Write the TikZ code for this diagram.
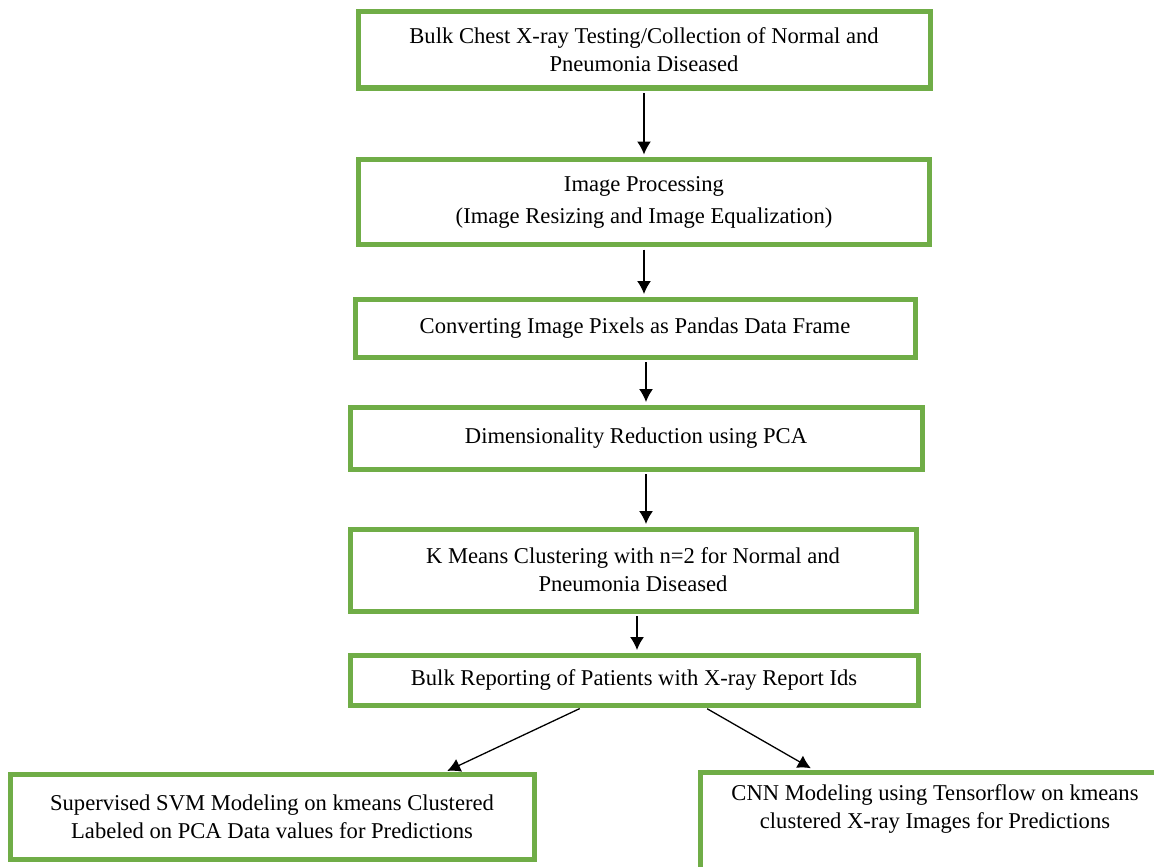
\documentclass[tikz,border=0pt]{standalone}
\usepackage{fontspec}
\setmainfont{Liberation Serif}
\usetikzlibrary{arrows.meta,positioning,calc}

\definecolor{boxgreen}{HTML}{70AD47}

\tikzset{
  stepbox/.style={draw=boxgreen, line width=5pt, align=center, inner sep=2pt,
    font=\fontsize{22.6}{28}\selectfont},
  flow/.style={-{Latex[width=14pt,length=13pt]}, line width=1.3pt,
    shorten >=2.5pt, shorten <=2.5pt},
}

\begin{document}
\begin{tikzpicture}[x=1pt,y=-1pt]
        \useasboundingbox (0,0) rectangle (1154,867);
        \clip (0,0) rectangle (1154,867);
        \node[stepbox, minimum width=572, minimum height=76] (A) at (644,50) {Bulk Chest X-ray Testing/Collection of Normal and\\Pneumonia Diseased};
        \node[stepbox, minimum width=571, minimum height=85] (B) at (644,202) {Image Processing\\[4pt](Image Resizing and Image Equalization)};
        \node[stepbox, minimum width=560, minimum height=58] (C) at (635,328) {Converting Image Pixels as Pandas Data Frame};
        \node[stepbox, minimum width=572, minimum height=62] (D) at (636,438) {Dimensionality Reduction using PCA};
        \node[stepbox, minimum width=566, minimum height=82] (E) at (633,570) {K Means Clustering with n=2 for Normal and\\Pneumonia Diseased};
        \node[stepbox, minimum width=568, minimum height=50] (F) at (634,680) {Bulk Reporting of Patients with X-ray Report Ids};
        \node[stepbox, minimum width=524, minimum height=85] (G) at (272,817) {Supervised SVM Modeling on kmeans Clustered\\Labeled on PCA Data values for Predictions};
        \node[stepbox, minimum width=470, minimum height=130,
              label={[align=center, anchor=north, inner sep=0pt, yshift=-15pt,
                      font=\fontsize{22.6}{28}\selectfont]north:{CNN Modeling using Tensorflow on kmeans\\clustered X-ray Images for Predictions}}] (H) at (935,837) {};
        % arrow start points
        \coordinate (CD) at ($(C.south)+(11,0)$);
        \coordinate (DE) at ($(D.south)+(10,0)$);
        \coordinate (EF) at ($(E.south)+(4,0)$);
        \coordinate (FG) at ($(F.south)+(-52,0)$);
        \coordinate (FH) at ($(F.south)+(71,0)$);
        % arrows
        \draw[flow] (A.south) -- (A.south |- B.north);
        \draw[flow] (B.south) -- (B.south |- C.north);
        \draw[flow] (CD) -- (CD |- D.north);
        \draw[flow] (DE) -- (DE |- E.north);
        \draw[flow] (EF) -- (EF |- F.north);
        \draw[flow] (FG) -- ($(G.north)+(173,0)$);
        \draw[flow] (FH) -- ($(H.north)+(-122,0)$);
\end{tikzpicture}
\end{document}
